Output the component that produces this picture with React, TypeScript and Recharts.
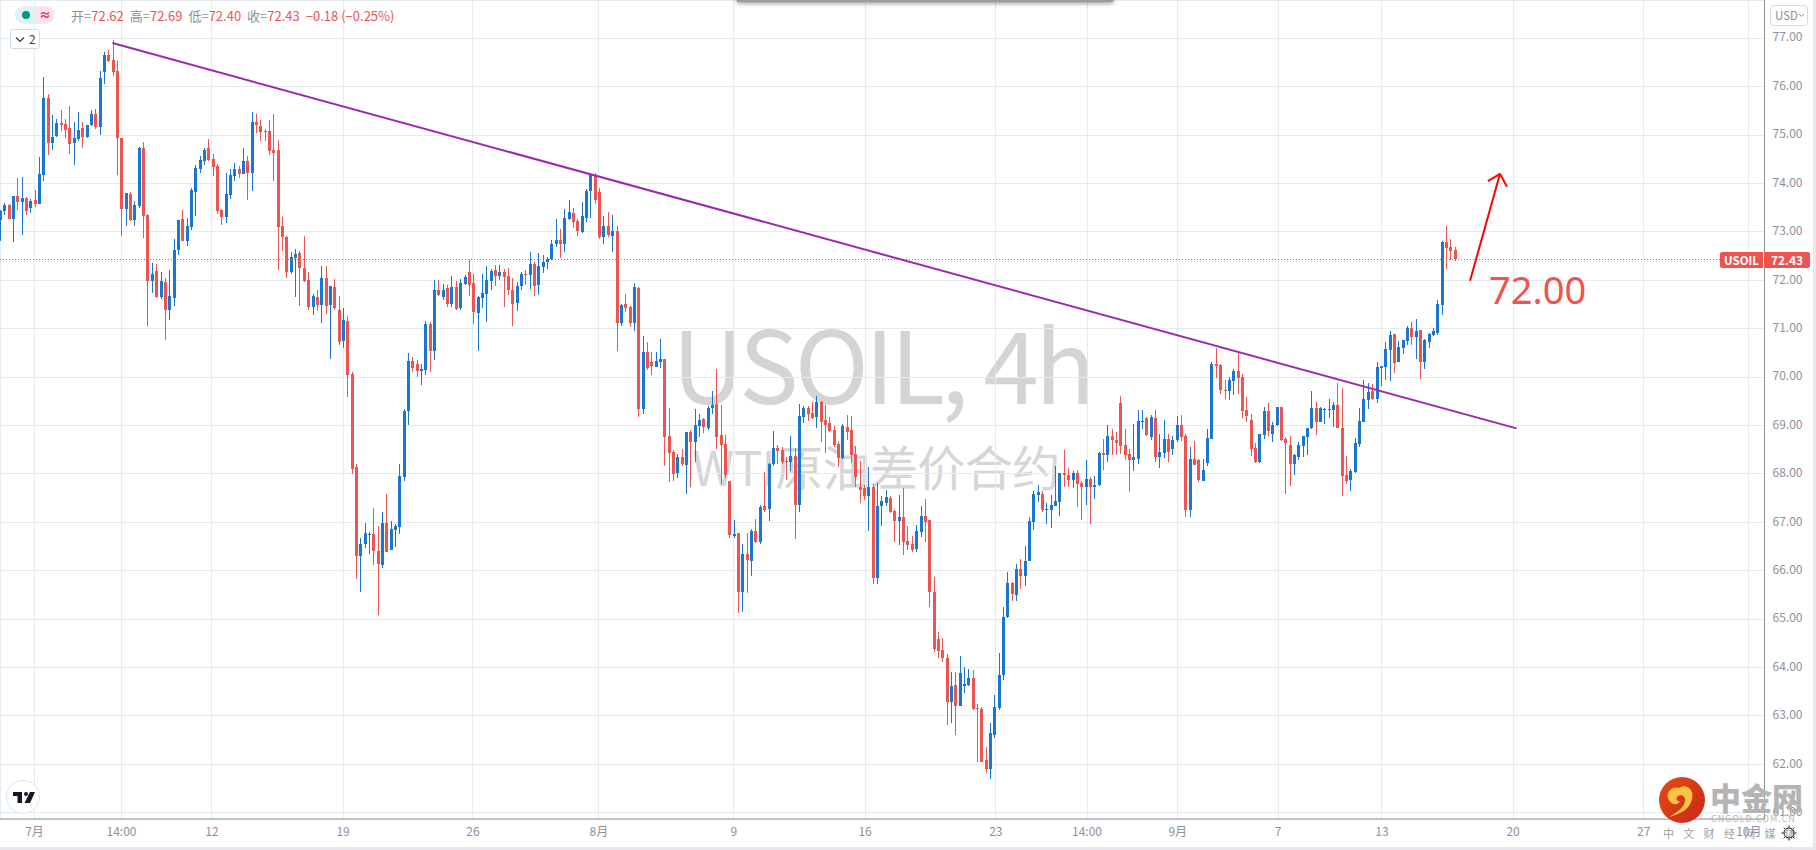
import React from 'react';
import { ComposedChart, Bar, XAxis, YAxis, CartesianGrid, ReferenceLine } from 'recharts';

const opens = [
  73.25,73.44,73.56,73.27,73.74,73.62,73.70,73.49,73.66,73.58,
  74.18,75.77,74.84,74.98,75.25,75.22,75.15,74.84,74.92,75.15,
  74.96,75.20,75.44,75.17,76.30,76.66,76.55,76.32,74.94,73.47,
  73.78,73.25,73.54,74.73,73.35,71.99,72.19,71.66,71.97,71.39,
  71.63,72.63,73.27,72.81,73.10,73.83,74.30,74.47,74.73,74.51,
  74.36,73.45,73.31,73.76,74.16,74.30,74.20,74.47,74.22,75.27,
  75.19,75.09,75.09,74.69,74.69,73.12,72.89,72.17,72.46,72.57,
  72.25,72.01,71.45,71.66,71.49,72.05,71.49,71.86,71.39,70.75,
  71.16,70.06,68.14,66.30,66.55,66.73,66.76,66.41,66.12,66.99,
  66.43,66.84,66.90,67.94,69.30,70.33,70.27,70.13,70.15,71.10,
  70.54,71.80,71.66,71.83,71.51,71.86,71.43,71.92,72.17,71.94,
  71.33,71.63,71.72,71.99,72.21,72.09,72.17,72.09,71.80,71.53,
  71.88,72.13,72.11,72.33,71.90,72.27,72.38,72.43,72.75,72.83,
  72.75,73.26,73.39,73.22,73.00,73.28,73.84,74.17,73.82,72.89,
  73.12,72.91,73.02,71.11,71.51,71.45,71.11,71.84,69.34,70.52,
  70.31,70.21,70.31,70.37,68.78,68.45,68.01,68.34,68.18,68.86,
  68.65,68.99,69.13,68.94,69.36,69.44,68.80,68.61,67.85,66.71,
  66.77,65.55,66.34,66.21,66.83,66.59,67.33,67.27,68.20,68.53,
  68.49,68.26,68.24,68.37,67.35,69.17,69.36,69.25,69.17,69.48,
  69.11,69.05,68.90,68.61,68.32,68.97,68.90,68.41,67.72,67.70,
  67.54,67.72,65.84,67.33,67.39,67.50,67.23,67.02,67.10,66.61,
  66.56,66.44,66.79,67.12,67.04,65.55,64.58,64.37,64.19,63.28,
  63.63,63.21,63.61,63.63,63.79,63.17,63.15,62.09,61.91,62.61,
  63.17,63.84,65.04,65.75,65.49,66.04,65.90,66.19,67.01,67.57,
  67.59,67.26,67.26,67.34,67.41,68.01,67.97,67.88,68.01,67.82,
  67.72,67.90,67.72,67.76,68.44,68.38,68.79,68.71,69.46,68.59,
  68.42,68.28,68.30,69.08,69.15,68.77,69.15,68.34,68.44,68.73,
  68.52,68.71,69.02,68.79,67.26,68.30,68.28,67.86,68.23,68.73,
  70.28,70.24,69.74,69.72,69.91,70.12,70.01,69.31,69.12,68.54,
  68.25,68.81,69.29,68.83,69.00,69.39,68.73,68.59,68.21,68.34,
  68.57,68.77,68.94,69.37,69.08,69.33,69.33,69.33,69.43,68.94,
  67.97,67.88,68.03,68.61,69.08,69.52,69.72,69.54,70.18,70.20,
  70.55,70.88,70.32,70.61,70.74,71.01,70.82,70.97,70.32,70.72,
  70.86,70.92,71.48,72.79,72.68,72.62,
];

const highs = [
  73.45,73.59,73.58,73.75,74.11,74.13,73.72,73.67,73.86,74.54,
  76.19,75.85,75.42,75.33,75.52,75.33,75.60,75.26,75.48,75.26,
  75.21,75.52,75.53,76.32,76.72,76.76,76.97,76.53,74.94,73.80,
  73.82,73.64,74.76,74.86,73.37,72.36,72.34,72.17,72.04,72.21,
  72.85,73.25,73.45,73.28,73.91,74.38,74.56,74.73,74.92,74.61,
  74.40,73.47,74.22,74.30,74.42,74.36,74.73,74.57,75.48,75.44,
  75.31,75.12,75.31,75.44,74.90,73.31,72.92,72.58,72.65,72.61,
  72.92,72.17,71.72,71.80,72.30,72.30,71.88,72.03,71.68,71.43,
  71.26,70.10,68.20,66.68,66.99,66.80,67.30,66.92,67.21,67.59,
  67.03,66.97,68.20,69.34,70.50,70.42,70.35,70.27,71.16,71.14,
  72.01,72.01,71.92,71.90,72.09,71.99,72.03,72.11,72.42,72.13,
  71.68,72.13,72.30,72.23,72.32,72.32,72.24,72.25,72.04,71.96,
  72.17,72.21,72.58,72.37,72.56,72.52,72.48,72.83,73.26,73.06,
  73.47,73.66,73.49,73.26,73.61,73.88,74.19,74.21,73.90,73.33,
  73.41,73.35,73.12,71.51,71.71,71.47,71.94,71.86,70.85,70.72,
  70.52,70.52,70.78,70.37,69.36,68.49,68.41,68.51,68.86,68.90,
  69.34,69.23,69.15,69.40,69.71,70.17,69.42,68.80,67.85,67.04,
  66.77,66.56,66.77,66.87,67.06,67.35,68.03,68.22,68.88,68.59,
  68.55,68.34,68.78,68.53,69.44,69.40,69.40,69.48,69.61,69.50,
  69.42,69.17,68.99,68.68,69.03,69.21,69.19,68.57,68.26,67.77,
  68.14,67.79,67.81,67.54,67.66,67.54,67.27,67.56,67.70,66.92,
  66.71,66.94,67.33,67.48,67.04,65.86,64.74,64.60,64.27,63.90,
  63.90,64.23,64.02,63.96,63.94,63.25,63.19,62.36,62.86,63.44,
  64.29,65.25,65.98,65.77,66.14,66.24,66.50,67.10,67.65,67.78,
  67.65,67.39,67.57,68.17,68.01,68.50,68.13,68.05,68.07,67.86,
  68.28,67.94,67.96,68.46,68.73,69.02,68.92,68.86,69.60,68.92,
  68.52,69.04,69.33,69.33,69.17,69.21,69.33,68.83,69.12,68.83,
  68.79,69.19,69.21,68.83,68.55,68.67,68.30,68.30,68.92,70.32,
  70.61,70.26,69.93,70.01,70.16,70.51,70.06,69.58,69.23,68.63,
  68.83,69.39,69.46,69.08,69.39,69.39,68.77,68.79,68.42,68.65,
  68.79,68.94,69.72,69.48,69.39,69.37,69.54,69.48,69.87,69.77,
  68.36,68.11,68.75,69.37,69.93,69.87,69.85,70.32,70.22,70.72,
  70.95,70.88,70.74,70.76,71.05,71.13,71.19,70.97,70.78,70.92,
  71.01,71.59,72.81,73.12,72.85,72.69,
];

const lows = [
  72.80,73.35,73.26,72.80,73.44,72.94,73.35,73.38,73.51,73.58,
  74.04,74.59,74.69,74.95,75.09,74.93,74.61,74.38,74.88,74.73,
  74.94,75.19,75.11,75.00,76.06,76.51,76.22,74.18,72.92,73.12,
  73.23,73.12,73.51,72.87,71.06,71.73,71.63,71.61,70.75,71.18,
  71.47,72.52,72.80,72.71,73.04,73.33,74.21,74.38,74.47,74.16,
  73.37,73.14,73.18,73.68,74.05,74.11,74.20,73.66,73.85,75.04,
  74.87,74.87,74.59,74.05,72.21,72.61,72.05,72.13,71.66,71.47,
  71.97,71.39,71.28,71.37,71.12,71.30,70.37,71.39,70.66,70.60,
  69.59,68.00,65.83,65.56,66.47,66.35,66.12,65.08,66.06,66.39,
  66.43,66.49,66.76,67.85,69.01,70.11,70.00,69.84,70.04,70.11,
  70.35,71.68,71.59,71.45,71.45,71.39,71.39,71.90,71.68,71.10,
  70.54,71.43,71.14,71.80,71.88,72.01,71.45,71.69,71.05,71.36,
  71.80,71.90,71.82,71.67,71.69,72.15,72.23,72.42,72.69,72.46,
  72.58,73.24,73.08,72.91,72.97,73.20,73.28,73.57,72.85,72.75,
  72.89,72.58,70.54,71.05,71.34,71.03,70.95,69.17,69.23,70.14,
  70.04,70.21,70.19,68.15,67.83,67.85,67.91,68.16,67.58,67.72,
  68.24,68.76,68.84,68.90,69.23,68.51,67.79,67.91,66.67,66.67,
  65.12,65.16,65.53,65.90,66.57,66.54,67.21,67.02,68.16,68.20,
  68.20,67.87,68.05,66.65,67.21,69.05,69.09,69.13,68.94,68.65,
  68.43,68.86,68.55,68.14,68.30,68.70,68.22,67.72,67.39,67.45,
  66.81,65.72,65.72,66.92,67.33,67.19,66.59,66.52,66.32,66.42,
  66.38,66.38,66.69,66.59,65.24,64.31,64.21,64.10,62.80,62.84,
  62.59,63.19,63.48,63.61,63.11,62.05,62.05,61.83,61.70,62.55,
  63.11,63.74,65.02,65.37,65.38,65.61,65.67,66.19,66.85,67.43,
  67.22,66.96,66.89,67.34,67.12,67.74,67.74,67.70,67.30,67.05,
  67.36,66.97,67.49,67.76,68.09,68.26,68.38,68.38,68.40,68.28,
  67.63,68.07,68.21,68.94,68.77,68.69,68.25,68.13,68.34,68.25,
  68.40,68.65,68.67,67.12,67.10,68.17,67.82,67.84,68.15,68.73,
  69.99,69.64,69.54,69.54,69.62,69.64,69.15,69.06,68.36,68.21,
  68.23,68.73,68.77,68.67,69.00,68.69,67.59,67.76,67.99,68.28,
  68.36,68.38,68.94,68.79,69.08,69.04,69.15,68.96,68.94,67.53,
  67.78,67.65,68.03,68.57,69.08,69.33,69.52,69.48,69.81,69.93,
  69.91,70.08,70.30,70.47,70.66,70.66,70.36,69.95,70.16,70.61,
  70.84,70.86,71.28,72.23,72.41,72.40,
];

const closes = [
  73.44,73.56,73.27,73.74,73.62,73.70,73.44,73.64,73.58,74.20,
  75.77,74.84,74.96,75.24,75.21,75.11,74.82,74.94,75.11,74.96,
  75.20,75.43,75.17,76.18,76.66,76.53,76.30,74.94,73.47,73.80,
  73.25,73.56,74.73,73.33,71.99,72.13,71.66,71.99,71.39,71.68,
  72.63,73.25,72.81,73.12,73.87,74.32,74.49,74.69,74.49,74.34,
  73.43,73.31,73.78,74.18,74.30,74.20,74.47,74.22,75.27,75.21,
  75.06,75.06,74.67,74.63,73.10,72.89,72.17,72.48,72.54,72.25,
  71.99,71.45,71.68,71.49,72.05,71.47,71.88,71.43,70.73,71.18,
  70.04,68.10,66.30,66.55,66.78,66.76,66.41,66.14,66.99,66.39,
  66.86,66.92,67.96,69.30,70.33,70.19,70.13,70.17,71.10,70.54,
  71.80,71.69,71.80,71.51,71.86,71.41,71.94,72.07,71.90,71.34,
  71.66,71.73,72.01,72.19,72.09,72.17,72.07,71.80,71.51,71.88,
  72.13,72.11,72.33,71.88,72.29,72.38,72.44,72.75,72.83,72.75,
  73.28,73.41,73.20,73.02,73.33,73.84,74.17,73.66,72.89,73.12,
  72.93,73.02,71.11,71.49,71.42,71.11,71.86,69.34,70.52,70.19,
  70.23,70.33,70.37,68.76,68.43,67.99,68.34,68.20,68.86,68.65,
  69.01,69.11,68.97,69.36,69.42,68.76,68.59,67.97,66.73,66.75,
  65.55,66.34,66.23,66.81,66.59,67.31,67.25,68.20,68.53,68.47,
  68.24,68.24,68.37,67.35,69.19,69.36,69.23,69.15,69.48,69.07,
  69.01,68.88,68.59,68.32,68.99,68.86,68.39,67.93,67.66,67.54,
  67.72,65.84,67.33,67.43,67.52,67.21,67.02,67.10,66.59,66.54,
  66.42,66.81,67.12,67.00,65.55,64.39,64.35,64.19,63.28,63.61,
  63.21,63.88,63.65,63.79,63.15,63.15,62.05,61.91,62.65,63.19,
  63.85,65.05,65.75,65.51,66.04,65.90,66.21,67.03,67.59,67.63,
  67.26,67.28,67.36,67.43,68.01,67.97,67.88,68.01,67.80,67.72,
  67.90,67.72,67.78,68.44,68.38,68.79,68.69,68.63,68.57,68.40,
  68.28,68.34,69.10,69.10,68.81,69.17,68.34,68.46,68.73,68.46,
  68.71,69.02,68.77,67.26,68.30,68.19,67.88,68.07,68.75,70.28,
  70.22,69.74,69.72,69.93,70.12,69.99,69.29,69.19,68.52,68.25,
  68.83,69.29,68.88,69.02,69.39,68.71,68.63,68.21,68.38,68.59,
  68.79,68.94,69.37,69.08,69.37,69.35,69.35,69.43,68.94,67.95,
  67.86,68.05,68.63,69.10,69.54,69.70,69.54,70.20,70.22,70.57,
  70.86,70.30,70.63,70.76,71.01,70.82,70.95,70.32,70.76,70.88,
  70.95,71.50,72.79,72.66,72.60,72.43,
];

// x axis runs on bar number, bars past the last one are the empty space on the right
const timeTicks = [7.94, 27.98, 48.8, 79, 108.9, 137.9, 169, 199.2, 229.3, 250.3, 271.2, 294.3, 318.2, 348.4, 378.5, 402.7];
const timeLabels = ['7月', '14:00', '12', '19', '26', '8月', '9', '16', '23', '14:00', '9月', '7', '13', '20', '27', '10月'];
const priceTicks = [61, 62, 63, 64, 65, 66, 67, 68, 69, 70, 71, 72, 73, 74, 75, 76, 77];

const lastPrice = 72.43;
const trendLine = [{ x: 25.9, y: 76.9 }, { x: 349.2, y: 68.94 }];
const arrowShaft = [{ x: 338.5, y: 71.99 }, { x: 345.4, y: 74.2 }];
const arrowLeft = [{ x: 342.6, y: 74.05 }, { x: 345.4, y: 74.2 }];
const arrowRight = [{ x: 347, y: 73.93 }, { x: 345.4, y: 74.2 }];

const UP = '#1976d2';
const DOWN = '#ef5350';
const GRID = '#e3ecf3';
const AXIS_TEXT = '#8d9099';
const FONT = '"Noto Sans CJK SC", "Noto Sans", sans-serif';

const candles = opens.map((open, i) => ({
  i,
  open,
  close: closes[i],
  high: highs[i],
  low: lows[i],
  range: [lows[i], highs[i]],
}));

const Candle = (props: any) => {
  const { x, y, width, height, payload } = props;
  const perUnit = height / (payload.high - payload.low);
  const yOf = (v: number) => y + (payload.high - v) * perUnit;
  const left = Math.round(x + width / 2 - 1.5);
  const color = payload.close >= payload.open ? UP : DOWN;
  const top = Math.round(yOf(Math.max(payload.open, payload.close)));
  const bottom = Math.round(yOf(Math.min(payload.open, payload.close)));
  return (
    <g shapeRendering="crispEdges">
      <rect x={left + 1} y={Math.round(y)} width={1} height={Math.max(1, Math.round(height))} fill={color} />
      <rect x={left} y={top} width={3} height={Math.max(1, bottom - top)} fill={color} />
    </g>
  );
};

const abs = (left: number, top: number, extra: React.CSSProperties = {}): React.CSSProperties => ({
  position: 'absolute',
  left,
  top,
  whiteSpace: 'nowrap',
  fontFamily: FONT,
  ...extra,
});

const Legend = () => (
  <>
    <div style={abs(15, 6, { width: 20, height: 18, background: '#e0f2f1', borderRadius: '9px 0 0 9px' })}>
      <div style={{ position: 'absolute', left: 7, top: 5, width: 8, height: 8, borderRadius: 4, background: '#009688' }} />
    </div>
    <div style={abs(35, 6, { width: 20, height: 18, lineHeight: '17px', background: '#fce4ec', borderRadius: '0 9px 9px 0', color: '#e91e63', fontSize: 12, textIndent: 4, fontWeight: 700 })}>≈</div>
    <div style={abs(71, 7, { fontSize: 13, lineHeight: '18px', color: '#8d9099' })}>
      开=<span style={{ color: DOWN }}>72.62</span>
      <span style={{ marginLeft: 6 }}>高=</span><span style={{ color: DOWN }}>72.69</span>
      <span style={{ marginLeft: 6 }}>低=</span><span style={{ color: DOWN }}>72.40</span>
      <span style={{ marginLeft: 6 }}>收=</span><span style={{ color: DOWN }}>72.43</span>
      <span style={{ marginLeft: 6, color: DOWN }}>−0.18 (−0.25%)</span>
    </div>
    <div style={abs(10, 29, { width: 30, height: 20, boxSizing: 'border-box', border: '1px solid #d6d9e0', borderRadius: 3, fontSize: 12, lineHeight: '18px', color: '#444', background: '#fff' })}>
      <svg width={10} height={8} style={{ position: 'absolute', left: 4, top: 6 }}>
        <path d="M1 1.5 L5 5.5 L9 1.5" fill="none" stroke="#333" strokeWidth={1.2} />
      </svg>
      <span style={{ position: 'absolute', left: 18 }}>2</span>
    </div>
    <div style={abs(1770, 5, { width: 38, height: 21, boxSizing: 'border-box', border: '1px solid #d6d9e0', borderRadius: 4, fontSize: 11.5, lineHeight: '19px', color: '#8d9099', background: '#fff', paddingLeft: 4 })}>
      USD
      <svg width={7} height={5} style={{ position: 'absolute', left: 27, top: 7 }}>
        <path d="M1 1 L3.5 3.5 L6 1" fill="none" stroke="#8d9099" strokeWidth={1} />
      </svg>
    </div>
  </>
);

const Branding = () => (
  <>
    {/* tradingview badge */}
    <div style={abs(6, 780, { width: 34, height: 34, boxSizing: 'border-box', borderRadius: 17, background: '#fff', border: '1px solid #e0e3eb' })}>
      <svg width={34} height={34} style={{ position: 'absolute', left: -1, top: -1 }}>
        <path d="M7 12 H16 V23 H11.5 V16 H7 Z M24 12 H29 L24 23 H18.5 Z" fill="#131722" />
        <circle cx={20} cy={14} r={2} fill="#131722" />
      </svg>
    </div>
    {/* site mark */}
    <svg width={50} height={50} style={abs(1657, 775)}>
      <defs>
        <linearGradient id="mark" x1="0" y1="0" x2="1" y2="1">
          <stop offset="0" stopColor="#e84a10" />
          <stop offset="1" stopColor="#c8281c" />
        </linearGradient>
      </defs>
      <circle cx={25} cy={25} r={23} fill="url(#mark)" />
      <path d="M11 23 C9 16 16 11 22 13 C28 8 38 14 35 24 C33 34 24 39 12 42 C20 37 27 33 28 26 C29 21 24 19 21 21 C18 23 20 27 23 26 C21 31 13 30 11 23 Z" fill="#fbc244" />
    </svg>
    <div style={abs(1710, 777, { fontSize: 31, lineHeight: '40px', fontWeight: 900, color: '#b4b4b4' })}>中金网</div>
    <div style={abs(1711, 813, { fontSize: 9, lineHeight: '11px', letterSpacing: 0.9, color: '#b8b8b8' })}>CNGOLD.COM.CN</div>
    <div style={abs(1663, 825, { fontSize: 11, lineHeight: '16px', letterSpacing: 9.3, color: '#a0a0a0' })}>中文财经网媒体</div>
    <svg width={16} height={16} style={abs(1781, 825)}>
      <circle cx={8} cy={8} r={5} fill="none" stroke="#131722" strokeWidth={1} />
      <path d="M8 0.5V2.5M8 13.5V15.5M0.5 8H2.5M13.5 8H15.5M2.7 2.7L4 4M12 12L13.3 13.3M2.7 13.3L4 12M12 4L13.3 2.7" stroke="#131722" strokeWidth={1} />
    </svg>
  </>
);

export default function App() {
  return (
    <div style={{ position: 'relative', width: 1816, height: 850, overflow: 'hidden', background: '#fff' }}>
      <style>{'body{margin:0}'}</style>

      {/* watermark sits under the chart */}
      <div style={abs(672, 296, { fontSize: 100, lineHeight: '130px', letterSpacing: -3.9, color: '#d4d4d4' })}>USOIL, 4h</div>
      <div style={abs(692, 430, { fontSize: 48, lineHeight: '70px', letterSpacing: -0.6, color: '#d6d6d6' })}>WTI原油差价合约</div>

      <div style={{ position: 'absolute', left: 0, top: 0 }}>
        <ComposedChart
          width={1816}
          height={850}
          data={candles}
          margin={{ top: 0, right: 0, bottom: 3, left: 0 }}
        >
          <CartesianGrid stroke={GRID} strokeWidth={1} shapeRendering="crispEdges" />
          <XAxis
            dataKey="i"
            type="number"
            domain={[0, 406.3]}
            allowDataOverflow
            ticks={timeTicks}
            tickFormatter={(_v: number, idx: number) => timeLabels[idx]}
            interval={0}
            height={28}
            tickLine={false}
            axisLine={{ stroke: '#8f9096' }}
            tick={{ fill: AXIS_TEXT, fontSize: 12, fontFamily: FONT }}
          />
          <YAxis
            orientation="right"
            type="number"
            domain={[60.87, 77.79]}
            allowDataOverflow
            ticks={priceTicks}
            tickFormatter={(v: number) => v.toFixed(2)}
            interval={0}
            width={51.5}
            tickLine={false}
            axisLine={{ stroke: '#8f9096' }}
            tick={{ fill: AXIS_TEXT, fontSize: 12, fontFamily: FONT, dy: -1 }}
          />
          <ReferenceLine y={lastPrice} stroke={DOWN} strokeDasharray="1 2" shapeRendering="crispEdges" />
          <Bar dataKey="range" barSize={3} shape={<Candle />} isAnimationActive={false} />
          <ReferenceLine segment={trendLine} stroke="#9c27b0" strokeWidth={2} ifOverflow="visible" />
          <ReferenceLine segment={arrowShaft} stroke="#ff0000" strokeWidth={2} ifOverflow="visible" />
          <ReferenceLine segment={arrowLeft} stroke="#ff0000" strokeWidth={2} ifOverflow="visible" />
          <ReferenceLine segment={arrowRight} stroke="#ff0000" strokeWidth={2} ifOverflow="visible" />
        </ComposedChart>
      </div>

      {/* shadow of a popup cut off by the top of the page */}
      <div style={{ position: 'absolute', left: 737, top: -8, width: 376, height: 10, background: '#9a9aa2', boxShadow: '0 1px 5px rgba(40,40,50,0.55)' }} />

      <div style={abs(1489, 266, { fontSize: 38, lineHeight: '46px', color: DOWN, fontFamily: '"Noto Sans", sans-serif' })}>72.00</div>

      <div style={abs(1720, 252, { width: 43, height: 16, background: DOWN, color: '#fff', fontSize: 11.5, fontWeight: 700, lineHeight: '16px', textAlign: 'center', borderRadius: '2px 0 0 2px' })}>USOIL</div>
      <div style={abs(1764, 252, { width: 46, height: 16, background: DOWN, color: '#fff', fontSize: 12, fontWeight: 700, lineHeight: '16px', textAlign: 'center', borderRadius: '0 2px 2px 0' })}>72.43</div>

      <div style={{ position: 'absolute', left: 0, top: 847, width: 1816, height: 3, background: '#e7e8ee' }} />
      <div style={{ position: 'absolute', left: 1813, top: 0, width: 3, height: 850, background: '#e7e8ee' }} />

      <Legend />
      <Branding />
    </div>
  );
}
